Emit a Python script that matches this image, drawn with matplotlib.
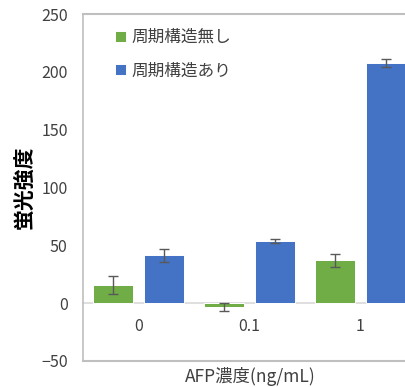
import numpy as np
import matplotlib.pyplot as plt

plt.rcParams['font.family'] = ['Noto Sans CJK JP', 'DejaVu Sans']

# データ
categories = ['0', '0.1', '1']
series_names = ['周期構造無し', '周期構造あり']
vals_none = [15.3, -3.5, 36.9]
err_none = [7.8, 3.5, 6.0]
vals_periodic = [41.5, 53.9, 207.4]
err_periodic = [5.5, 1.5, 3.3]

green = '#70AD47'
blue = '#4472C4'
border = '#BFBFBF'
err_col = '#595959'
text_col = '#404040'

fig = plt.figure(figsize=(4.05, 3.87), dpi=100)
ax = fig.add_axes([0.205, 0.0672, 0.822, 0.8966])

x = np.arange(len(categories))
w = 0.36
ax.bar(x - 0.232, vals_none, w, color=green, edgecolor='white', linewidth=0.7,
       label=series_names[0], zorder=3)
ax.bar(x + 0.232, vals_periodic, w, color=blue, edgecolor='white', linewidth=0.7,
       label=series_names[1], zorder=3)
ax.errorbar(x - 0.232, vals_none, yerr=err_none, fmt='none', ecolor=err_col,
            elinewidth=1, capsize=3.5, capthick=1, zorder=4)
ax.errorbar(x + 0.232, vals_periodic, yerr=err_periodic, fmt='none', ecolor=err_col,
            elinewidth=1, capsize=3.5, capthick=1, zorder=4)

ax.set_xlim(-0.5, 2.5)
ax.set_ylim(-50, 250)
ax.set_yticks(np.arange(-50, 251, 50))
ax.set_xticks(x)
ax.set_xticklabels(categories)

# 横軸を0の位置に
ax.spines['bottom'].set_position(('data', 0))
ax.spines['bottom'].set_color('#D9D9D9')
ax.spines['bottom'].set_linewidth(1.2)
ax.spines['bottom'].set_zorder(2)
ax.axhline(-50, color=border, linewidth=1.5, clip_on=False)
ax.spines['left'].set_color(border)
ax.spines['top'].set_color(border)
ax.spines['left'].set_linewidth(1.2)
ax.spines['top'].set_linewidth(1.5)
ax.spines['right'].set_visible(False)

ax.tick_params(axis='y', length=0, pad=11, labelsize=11.5, labelcolor=text_col)
ax.tick_params(axis='x', length=0, pad=11, labelsize=11.5, labelcolor=text_col)

ax.set_ylabel('蛍光強度', fontsize=15, fontweight='bold', labelpad=5)
fig.text(0.617, 0.028, 'AFP濃度(ng/mL)', ha='center', va='center',
         fontsize=12.5, color=text_col)

ax.legend(loc='upper left', bbox_to_anchor=(0.05, 1.0), frameon=False,
          fontsize=12, handlelength=0.65, handleheight=0.65, handletextpad=0.35,
          labelspacing=1.0, labelcolor=text_col)

fig.savefig('out.png', dpi=100)
